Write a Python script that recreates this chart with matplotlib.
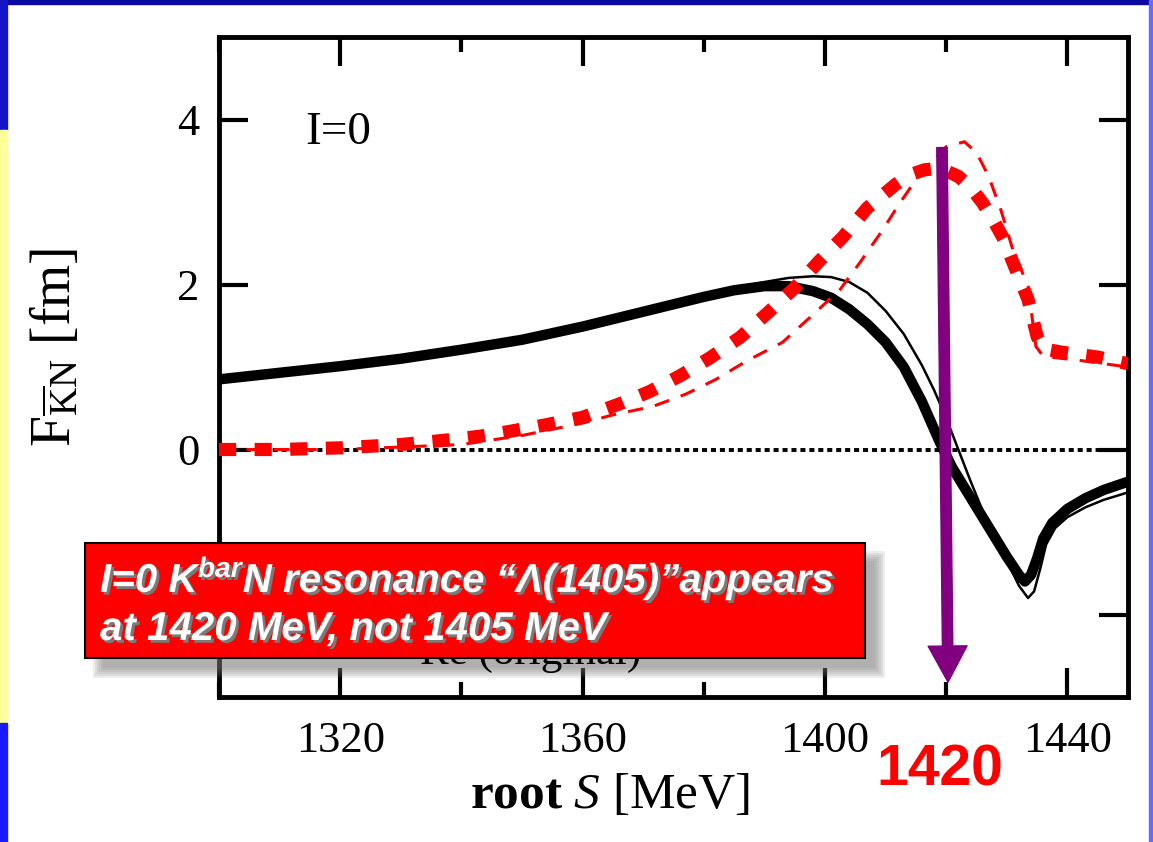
import numpy as np
import matplotlib
matplotlib.use('Agg')
import matplotlib.pyplot as plt
from matplotlib.patches import Rectangle
from matplotlib.ticker import MultipleLocator
import matplotlib.patheffects as pe

plt.rcParams['font.family'] = ['Liberation Serif', 'DejaVu Serif']
plt.rcParams['mathtext.fontset'] = 'custom'
plt.rcParams['mathtext.rm'] = 'Liberation Serif'
plt.rcParams['mathtext.it'] = 'Liberation Serif:italic'
plt.rcParams['mathtext.bf'] = 'Liberation Serif:bold'
plt.rcParams['mathtext.sf'] = 'Liberation Sans:bold:italic'

# thick black solid
x_thick = [1300, 1310, 1320, 1330, 1340, 1350, 1360, 1370, 1375, 1380, 1385, 1390, 1394,
           1398, 1401, 1404, 1407, 1410, 1413, 1416, 1419, 1421, 1424, 1427, 1430, 1432,
           1433, 1434, 1435, 1436, 1437.5, 1440, 1443, 1446, 1450]
y_thick = [0.85, 0.93, 1.01, 1.10, 1.21, 1.33, 1.49, 1.67, 1.76, 1.85, 1.93, 1.98, 1.98,
           1.92, 1.84, 1.70, 1.52, 1.30, 1.00, 0.58, 0.08, -0.22, -0.58, -0.94, -1.30, -1.52,
           -1.60, -1.52, -1.32, -1.08, -0.89, -0.72, -0.59, -0.49, -0.39]

# thin black solid
x_thin = [1300, 1310, 1320, 1330, 1340, 1350, 1360, 1370, 1375, 1380, 1385, 1390, 1394,
          1398, 1401, 1404, 1407, 1410, 1413, 1416, 1418, 1420, 1422, 1424, 1426, 1428,
          1430, 1432, 1433.5, 1434.5, 1435.5, 1436.5, 1438, 1440, 1443, 1446, 1450]
y_thin = [0.85, 0.93, 1.01, 1.10, 1.21, 1.33, 1.49, 1.67, 1.76, 1.86, 1.95, 2.03, 2.08,
          2.10, 2.09, 2.03, 1.90, 1.68, 1.40, 1.02, 0.72, 0.38, 0.0, -0.38, -0.74, -1.05,
          -1.35, -1.65, -1.80, -1.72, -1.45, -1.15, -0.95, -0.82, -0.70, -0.61, -0.52]

# red thick dotted
x_rdot = [1300, 1310, 1320, 1330, 1337, 1343, 1348, 1354, 1360, 1366, 1371, 1376, 1381,
          1386, 1390.6, 1395, 1399, 1403, 1407, 1411.6, 1414, 1416.4, 1419, 1422, 1424,
          1426, 1428, 1429.5, 1431, 1433.5, 1435, 1436, 1439, 1445, 1450]
y_rdot = [0.0, 0.0, 0.02, 0.06, 0.11, 0.16, 0.22, 0.30, 0.39, 0.55, 0.70, 0.89, 1.11,
          1.36, 1.66, 1.96, 2.28, 2.58, 2.93, 3.21, 3.33, 3.39, 3.41, 3.31, 3.18,
          2.99, 2.75, 2.55, 2.27, 1.82, 1.37, 1.22, 1.18, 1.12, 1.04]

# red thin dashed
x_rdash = [1300, 1320, 1340, 1350, 1360, 1365, 1371.5, 1377, 1382, 1387, 1393, 1397.5,
           1402.5, 1405.8, 1409.6, 1412, 1415, 1420, 1423, 1425, 1427, 1429, 1431, 1433.5,
           1434.8, 1436, 1442, 1450]
y_rdash = [0.0, 0.0, 0.06, 0.17, 0.32, 0.42, 0.52, 0.67, 0.85, 1.07, 1.30, 1.60,
           1.94, 2.27, 2.67, 2.95, 3.27, 3.67, 3.73, 3.60, 3.31, 2.91, 2.42, 1.98,
           1.25, 1.13, 1.08, 1.00]

W, H = 1153, 842
fig = plt.figure(figsize=(11.53, 8.42), dpi=100)
ax = fig.add_axes([219/W, 1-697/H, 909/W, 660/H])

ax.axhline(0, color='black', lw=2.8, ls=(0, (1.3, 1.0)), zorder=1)
ax.plot(x_thin, y_thin, color='black', lw=1.8, zorder=2)
ax.plot(x_thick, y_thick, color='black', lw=7.5, zorder=3, solid_capstyle='butt')
ax.plot(x_rdash, y_rdash, color='red', lw=2.2, ls=(0, (5, 4)), zorder=4)
ax.plot(x_rdot, y_rdot, color='red', lw=9.5, ls=(0, (1.3, 1.4)), zorder=5)

ax.annotate('', xy=(1420.3, -2.82), xytext=(1419.3, 3.66),
            arrowprops=dict(width=7.5, headwidth=28, headlength=26, color='#800080', shrink=0),
            zorder=6)

ax.set_xlim(1300, 1450)
ax.set_ylim(-3, 5)
ax.xaxis.set_major_locator(MultipleLocator(40))
ax.xaxis.set_minor_locator(MultipleLocator(20))
ax.yaxis.set_major_locator(MultipleLocator(2))
ax.tick_params(which='both', direction='in', top=True, right=True, width=3, labelsize=32)
ax.tick_params(which='major', length=21)
ax.tick_params(which='minor', length=11)
ax.tick_params(axis='x', pad=17)
ax.tick_params(axis='y', pad=14)
for s in ax.spines.values():
    s.set_linewidth(3.5)

ax.text(1314.3, 3.70, 'I=0', fontsize=34)

ax.set_xlabel(r'$\mathbf{root}\ \mathit{S}$ [MeV]', fontsize=37)
ax.xaxis.set_label_coords(0.43, -0.115)
ax.text(-0.180, 0.53, r'F$_{\overline{\mathrm{K}}\mathrm{N}}$ [fm]', transform=ax.transAxes,
        rotation=90, fontsize=40, ha='center', va='center')

# slide frame
fig.patches.append(Rectangle((0, 1-4/H), 1, 4/H, transform=fig.transFigure,
                             color='#0a0aa0', zorder=0))
fig.patches.append(Rectangle((0, 1-130/H), 7/W, 130/H, transform=fig.transFigure,
                             color='#1414c8', zorder=0))
fig.patches.append(Rectangle((0, 1-723/H), 7/W, 593/H, transform=fig.transFigure,
                             color='#ffff99', zorder=0))
fig.patches.append(Rectangle((0, 0), 7/W, 119/H, transform=fig.transFigure,
                             color='#1a1aff', zorder=0))
fig.patches.append(Rectangle((1149/W, 0), 4/W, 1, transform=fig.transFigure,
                             color='#6a6aff', zorder=0))

# soft shadow of the callout box
bx, by, bw, bh = 85, 543, 780, 115
for i in range(6):
    g = 6 - i * 2
    fig.patches.append(Rectangle(((bx + 14 - g)/W, 1-(by + bh + 14 + g)/H),
                                 (bw + 2*g)/W, (bh + 2*g)/H, transform=fig.transFigure,
                                 facecolor='#777777', edgecolor='none', alpha=0.13, zorder=4))

# text hidden behind the box
fig.text(420/W, 1-664/H, 'Re (original)', fontsize=31, va='baseline', zorder=4.5)

box = Rectangle((bx/W, 1-(by + bh)/H), bw/W, bh/H, transform=fig.transFigure,
                facecolor='#ff0000', edgecolor='black', lw=1.5, zorder=5)
fig.patches.append(box)

shadow = [pe.withSimplePatchShadow(offset=(2, -2), shadow_rgbFace='#7a7a7a', alpha=1.0)]
fig.text(100/W, 1-592/H, r'I=0 $\mathsf{K^{bar}N}$ resonance “Λ(1405)”appears',
         family='Liberation Sans', weight='bold', style='italic', fontsize=29,
         color='white', va='baseline', path_effects=shadow, zorder=6)
fig.text(100/W, 1-640/H, 'at 1420 MeV, not 1405 MeV',
         family='Liberation Sans', weight='bold', style='italic', fontsize=29,
         color='white', va='baseline', path_effects=shadow, zorder=6)

fig.text(940/W, 1-771/H, '1420', family='Liberation Sans', weight='bold',
         fontsize=41, color='red', ha='center', va='center', zorder=6)

fig.savefig('out.png', dpi=100)
